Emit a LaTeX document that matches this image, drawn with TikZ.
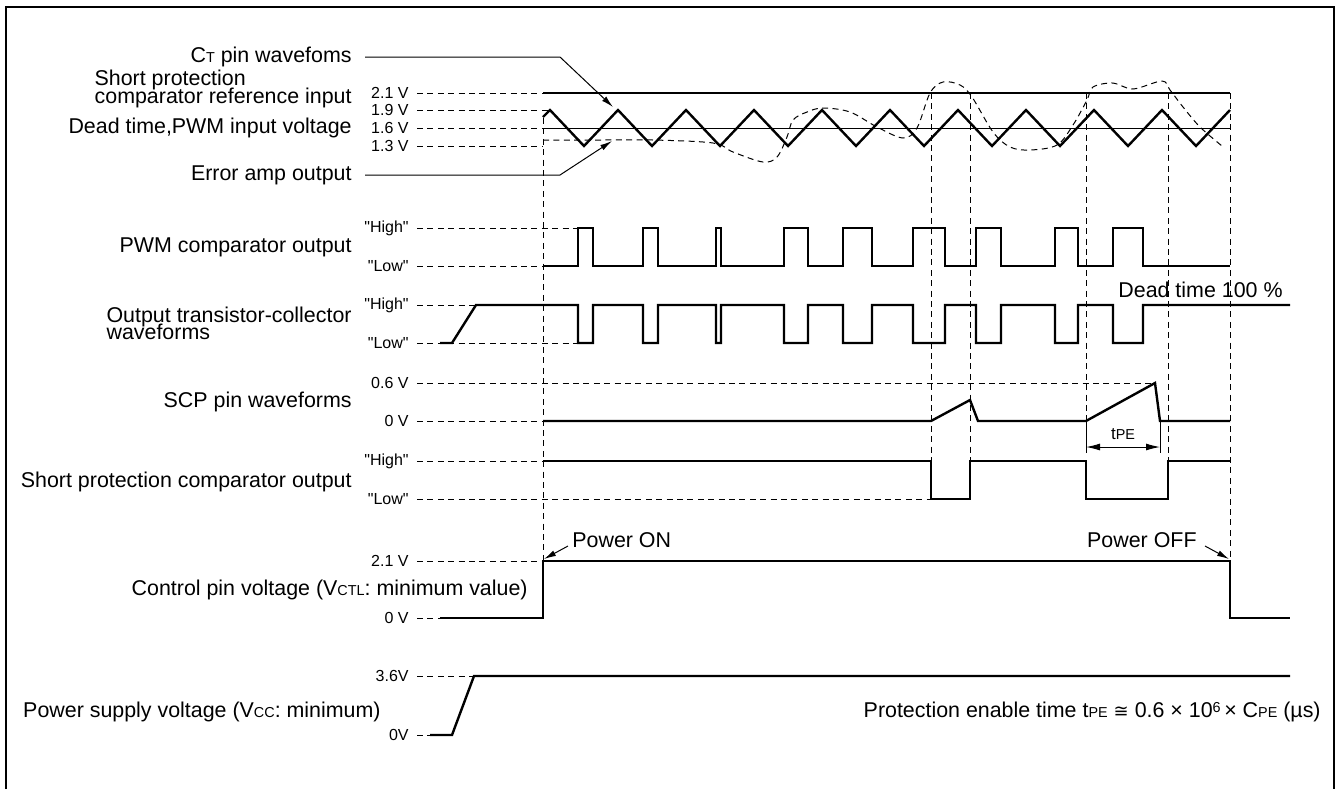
\documentclass[tikz,border=0pt]{standalone}
\usepackage{fontspec}
\setmainfont{Liberation Sans}
\newfontfamily\symfont{DejaVu Sans}
\usetikzlibrary{arrows.meta}

\newcommand{\lo}[1]{{\fontsize{7.2}{7}\selectfont #1}}
\newcommand{\tightlines}{\lineskiplimit=-20pt\relax}

\tikzset{
  wave/.style={line width=1.2pt, line join=miter},
  thinline/.style={line width=0.5pt},
  guide/.style={line width=0.5pt, dash pattern=on 3pt off 2.2pt},
  sig/.style={anchor=east, align=left, inner sep=0pt, font=\fontsize{10.7}{8.6}\selectfont\tightlines},
  lvl/.style={anchor=east, inner sep=0pt, font=\fontsize{8}{8}\selectfont},
  pointer/.style={line width=0.5pt, -{Latex[length=6pt,width=3pt]}},
}

\begin{document}
\begin{tikzpicture}[x=0.5pt,y=-0.5pt]
  \useasboundingbox (0,0) rectangle (1339,789);

  % Frame
  \draw[line width=1pt] (6,789) -- (6,7) -- (1334,7) -- (1334,789);

  % Signal names
  \node[sig] (ct)  at (352,57)  {C\lo{T} pin wavefoms};
  \node[sig] (ref) at (352,89)  {Short protection\\comparator reference input};
  \node[sig] (dt)  at (352,128) {Dead time,PWM input voltage};
  \node[sig] (err) at (352,175) {Error amp output};
  \node[sig] (pwm) at (352,247) {PWM comparator output};
  \node[sig] (out) at (352,323) {Output transistor-collector\\waveforms};
  \node[sig] (scp) at (352,402) {SCP pin waveforms};
  \node[sig] (spc) at (352,482) {Short protection comparator output};
  \node[sig] (ctl) at (528,590) {Control pin voltage (V\lo{CTL}: minimum value)};
  \node[sig] (vcc) at (381,712) {Power supply voltage (V\lo{CC}: minimum)};

  % Level marks and their dashed guides
  \foreach \name/\y/\txt/\xe in {l21/93/2.1 V/543, l19/110/1.9 V/550, l16/128/1.6 V/543, l13/146/1.3 V/543,
      pwmh/228/\textquotedbl High\textquotedbl/578, pwml/266/\textquotedbl Low\textquotedbl/543,
      outh/305/\textquotedbl High\textquotedbl/476, outl/343/\textquotedbl Low\textquotedbl/578,
      scph/383/0.6 V/1155, scpl/421/0 V/543,
      spch/461/\textquotedbl High\textquotedbl/543, spcl/499/\textquotedbl Low\textquotedbl/931,
      ctlh/561/2.1 V/543, ctll/618/0 V/440, vcch/676/3.6V/474, vccl/735/0V/430} {
    \node[lvl] (\name) at (409,\y) {\txt};
    \draw[guide] ([xshift=4pt]\name.east) -- (\xe,\y);
  }

  % Timing guides
  \foreach \x/\ya/\yb in {543/118/561, 931/93/499, 970/93/461, 1086/93/421, 1168/93/461, 1230/93/561}
    \draw[guide] (\x,\ya) -- (\x,\yb);

  % Reference levels
  \draw[thinline] (543,128) -- (1230,128);
  \draw[wave] (543,93) -- (1230,93);

  % Error amp output
  \draw[guide] plot[smooth, tension=0.55] coordinates {(543,140) (600,140) (653,140) (713,143) (733,152)
    (763,162) (777,157) (787,137) (793,120) (807,112) (823,108) (850,112) (877,127) (903,138) (917,128)
    (930,93) (943,82) (960,85) (972,97) (993,132) (1010,147) (1030,150) (1057,145) (1073,125) (1087,100)
    (1093,87) (1113,83) (1133,89) (1162,81) (1170,90) (1183,107) (1200,127) (1222,146)};

  % CT triangle
  \draw[wave] (543,117) \foreach \k in {0,...,9} { -- ({550+68*\k},110) -- ({584+68*\k},146) } -- (1230,110);

  % Pointers to the top waveforms
  \coordinate (ctbend) at (560,57);
  \coordinate (cttip) at (613,107);
  \coordinate (errbend) at (560,175);
  \coordinate (errtip) at (612,141);
  \draw[pointer] ([xshift=6.5pt]ct.east) -- (ctbend) -- (cttip);
  \draw[pointer] ([xshift=6.5pt]err.east) -- (errbend) -- (errtip);

  % PWM comparator output
  \draw[wave] (543,266) \foreach \a/\b in {578/593, 643/658, 716/721, 784/808, 843/872, 913/945, 976/1001, 1055/1078, 1113/1143}
    { -- (\a,266) -- (\a,228) -- (\b,228) -- (\b,266) } -- (1230,266);

  % Output transistor-collector
  \draw[wave] (440,343) -- (452,343) -- (476,305) \foreach \a/\b in {578/593, 643/658, 716/721, 784/808, 843/872, 913/945, 976/1001, 1055/1078, 1113/1143}
    { -- (\a,305) -- (\a,343) -- (\b,343) -- (\b,305) } -- (1290,305);
  \node[anchor=west, inner sep=0pt, font=\fontsize{10.7}{11}\selectfont] (dead) at (1118,290) {Dead time 100 \%};

  % SCP pin
  \draw[wave] (543,421) -- (931,421) -- (970,400) -- (978,421) -- (1086,421) -- (1155,383) -- (1160,421) -- (1230,421);
  \draw[thinline] (1086,421) -- (1086,453);
  \draw[thinline] (1160,421) -- (1160,453);
  \draw[line width=0.5pt, {Latex[length=7pt,width=3.5pt]}-{Latex[length=7pt,width=3.5pt]}] (1086,447) -- (1160,447);
  \node[font=\fontsize{8.5}{8}\selectfont] (tpe) at (1123,434) {t\lo{PE}};

  % Short protection comparator
  \draw[wave] (543,461) -- (931,461) -- (931,499) -- (970,499) -- (970,461) -- (1086,461) -- (1086,499)
    -- (1168,499) -- (1168,461) -- (1230,461);

  % Control pin
  \draw[wave] (440,618) -- (543,618) -- (543,561) -- (1230,561) -- (1230,618) -- (1290,618);
  \node[anchor=west, inner sep=0pt, font=\fontsize{10.7}{11}\selectfont] (pon) at (572,540) {Power ON};
  \node[anchor=east, inner sep=0pt, font=\fontsize{10.7}{11}\selectfont] (poff) at (1197,540) {Power OFF};
  \coordinate (ontip) at (544,559);
  \coordinate (offtip) at (1229,559);
  \draw[pointer] ([xshift=-2pt,yshift=-3pt]pon.west) -- (ontip);
  \draw[pointer] ([xshift=4pt,yshift=-3pt]poff.east) -- (offtip);

  % Power supply
  \draw[wave] (430,735) -- (452,735) -- (474,676) -- (1290,676);

  % Note
  \node[sig] (note) at (1321,712) {Protection enable time t\lo{PE} {\symfont\fontsize{9}{9}\selectfont ≅} 0.6 × 10\raisebox{2.5pt}{\lo{6}}\,× C\lo{PE} (µs)};
\end{tikzpicture}
\end{document}
